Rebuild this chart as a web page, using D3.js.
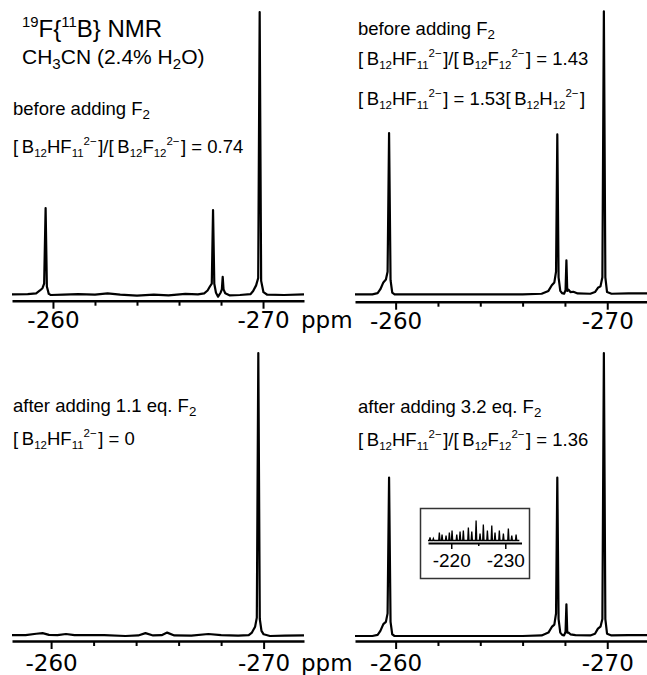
<!DOCTYPE html>
<html>
  <head>
    <title>19F{11B} NMR spectra</title>
    <style>
      body { margin: 0; background: #fff; }
      text { font-family: "Liberation Sans", Arial, sans-serif; fill: #000; }
    </style>
  </head>
  <body>
    <script src="https://cdnjs.cloudflare.com/ajax/libs/d3/7.8.5/d3.min.js"></script>
    <script>
      // spectra: [ppm, intensity], intensity 100 = tallest peak of the panel
      let specBefore1 = [
        [-258.05, 0.2], [-258.8, 0.3], [-259.2, 0.6], [-259.38, 1.6], [-259.5, 2.4], [-259.58, 4],
        [-259.65, 30.7], [-259.71, 3], [-259.8, 0.4], [-259.9, 0], [-260.5, 0.1], [-261.2, 0.3],
        [-262.0, 0.1], [-262.6, 0.6], [-263.2, 0.1], [-264.0, -0.2], [-264.8, 0.1], [-265.5, -0.1],
        [-266.3, 0.4], [-266.9, 0.2], [-267.2, 0.6], [-267.36, 1.6], [-267.47, 3.0], [-267.56, 4],
        [-267.62, 30], [-267.68, 4], [-267.76, 0.8], [-267.86, -0.6], [-267.98, 0.8], [-268.04, 2],
        [-268.08, 6.4], [-268.12, 2], [-268.2, 0.6], [-268.4, -0.1], [-268.9, 0], [-269.4, 0.3],
        [-269.53, 1.4], [-269.67, 3.4], [-269.77, 6], [-269.84, 100], [-269.91, 5], [-270.02, 1],
        [-270.2, 0.1], [-271.0, 0], [-271.95, 0.2]
      ];
      let specBefore2 = [
        [-258.08, 0], [-258.9, 0], [-259.15, 0.4], [-259.28, 1.8], [-259.42, 4.2], [-259.54, 5.2],
        [-259.62, 8], [-259.69, 57], [-259.76, 5], [-259.84, 0.6], [-259.95, 0], [-262, 0], [-264, 0],
        [-266, 0], [-266.9, 0.2], [-267.22, 1.2], [-267.38, 3.2], [-267.5, 4.2], [-267.58, 8],
        [-267.64, 56.5], [-267.7, 6], [-267.78, 1.2], [-267.87, 0.4], [-267.96, 0.2], [-268.03, 1.5],
        [-268.07, 12], [-268.11, 1.2], [-268.17, 1.6], [-268.26, 0.8], [-268.4, 0.9], [-268.6, 0.3],
        [-269.2, 0.2], [-269.42, 0.8], [-269.56, 2.3], [-269.68, 2.8], [-269.77, 6], [-269.84, 100],
        [-269.91, 6], [-269.99, 0.8], [-270.2, 0.2], [-271, 0.3], [-272.02, 0.3]
      ];
      let specAfter11 = [
        [-258.16, 0.3], [-258.8, 0.3], [-259.3, 0.8], [-259.6, 1.0], [-259.9, 0.4], [-260.3, 0.3],
        [-260.7, 0.7], [-261.1, 0.3], [-262.5, 0.3], [-263.5, 0], [-264.1, 0.2], [-264.44, 1.0],
        [-264.8, 0.2], [-265.2, 0.3], [-265.46, 1.2], [-265.8, 0.2], [-266.6, 0.1], [-267.4, 0.7],
        [-268.0, 0.3], [-268.8, 0.1], [-269.3, 0.3], [-269.45, 1.2], [-269.6, 3.3], [-269.68, 6.5],
        [-269.75, 100], [-269.82, 6], [-269.9, 1.8], [-270.0, 0.6], [-270.3, 0], [-271.0, 0.1],
        [-271.9, 0.2]
      ];
      let specAfter32 = [
        [-258.08, 0], [-258.9, 0], [-259.15, 0.4], [-259.28, 1.8], [-259.42, 4.2], [-259.54, 5],
        [-259.62, 8], [-259.69, 56], [-259.76, 5], [-259.84, 0.6], [-259.95, 0], [-262, 0], [-264, 0],
        [-266, 0], [-266.9, 0.2], [-267.22, 1.2], [-267.38, 3.2], [-267.5, 4], [-267.58, 8],
        [-267.64, 56], [-267.7, 6], [-267.78, 1.2], [-267.87, 0.4], [-267.96, 0.2], [-268.03, 1.5],
        [-268.07, 11.2], [-268.11, 1.2], [-268.17, 1.2], [-268.26, 0.6], [-268.5, 0.3], [-269.2, 0.2],
        [-269.42, 0.8], [-269.56, 2.6], [-269.68, 3.3], [-269.77, 6], [-269.84, 100], [-269.91, 6],
        [-269.99, 0.8], [-270.2, 0.2], [-271, 0.3], [-272.02, 0.3]
      ];
      // inset (-215 .. -233 ppm): spike positions and heights
      let insetPeaks = [
        [-216.07, 3], [-216.69, 2], [-217.8, 8], [-218.3, 6], [-219.04, 5], [-219.65, 8], [-220.15, 10],
        [-221.02, 6], [-221.63, 9], [-222.24, 10], [-223.17, 13], [-223.8, 9], [-224.6, 20],
        [-225.33, 7], [-225.94, 16], [-226.69, 10], [-227.5, 15], [-228.1, 8], [-228.9, 10],
        [-229.65, 7], [-230.57, 12], [-231.2, 5], [-232.0, 6]
      ];

      let majorTicks = [-260, -270];
      let minorTicks = [-262, -264, -266, -268];
      let insetMajor = [-220, -230];
      let insetMinor = [-225];

      let titleText = [['19', 'sup', 0.62], ['F{'], ['11', 'sup', 0.62], ['B} NMR']];
      let solventText = [['CH'], ['3', 'sub', 0.72], ['CN (2.4% H'], ['2', 'sub', 0.72], ['O)']];
      let beforeText = [['before adding F'], ['2', 'sub', 0.72]];
      let after11Text = [['after adding 1.1 eq. F'], ['2', 'sub', 0.72]];
      let after32Text = [['after adding 3.2 eq. F'], ['2', 'sub', 0.72]];
      let hf11 = [['[\u2009B'], ['12', 'sub'], ['HF'], ['11', 'sub'], ['2\u2212', 'sup'], ['\u200a]']];
      let f12 = [['[\u2009B'], ['12', 'sub'], ['F'], ['12', 'sub'], ['2\u2212', 'sup'], ['\u200a]']];
      let h12 = [['[\u2009B'], ['12', 'sub'], ['H'], ['12', 'sub'], ['2\u2212', 'sup'], ['\u200a]']];
      let ratio074 = hf11.concat([['/']], f12, [[' = 0.74']]);
      let ratio143 = hf11.concat([['/']], f12, [[' = 1.43']]);
      let ratio136 = hf11.concat([['/']], f12, [[' = 1.36']]);
      let ratioH12 = hf11.concat([[' = 1.53']], h12);
      let ratioZero = hf11.concat([[' = 0']]);

      let svg = d3.select('body')
                  .append('svg')
                  .attr('width', 647)
                  .attr('height', 675);

      let panels = [
        { spec: specBefore1, d: [-258.05, -271.95], r: [12, 304], base: 295, axisY: 300.7, lab: 27.5, ppm: true },
        { spec: specBefore2, d: [-258.08, -272.02], r: [355, 650], base: 294.3, axisY: 301.7, lab: 27.5, ppm: false },
        { spec: specAfter11, d: [-258.16, -271.9], r: [12, 304], base: 636, axisY: 641, lab: 30, ppm: true },
        { spec: specAfter32, d: [-258.08, -272.02], r: [355, 650], base: 636, axisY: 641, lab: 30, ppm: false }
      ];

      panels.forEach((p) => {
        let x = d3.scaleLinear().domain(p.d).range(p.r);
        let y = d3.scaleLinear().domain([0, 100]).range([p.base, p.base - 283]);

        let line = d3.line()
                     .x((d) => x(d[0]))
                     .y((d) => y(d[1]));

        svg.append('path')
           .attr('d', line(p.spec))
           .attr('fill', 'none')
           .attr('stroke', 'black')
           .attr('stroke-width', 2.2)
           .attr('stroke-linejoin', 'round');

        let minor = svg.append('g')
                       .attr('transform', 'translate(0,' + p.axisY + ')')
                       .call(d3.axisBottom(x).tickValues(minorTicks).tickSize(5).tickFormat(''));
        minor.select('.domain').remove();
        minor.selectAll('line').attr('stroke-width', 2);

        let major = svg.append('g')
                       .attr('transform', 'translate(0,' + p.axisY + ')')
                       .call(d3.axisBottom(x).tickValues(majorTicks).tickSize(8).tickSizeOuter(0)
                               .tickFormat((d) => String(d)));
        major.select('.domain').attr('stroke-width', 2.5);
        major.selectAll('line').attr('stroke-width', 2);
        major.selectAll('text')
             .attr('y', p.lab)
             .attr('dy', null)
             .style('font-family', '"DejaVu Sans", sans-serif')
             .style('font-size', '23px');

        if (p.ppm) {
          svg.append('text')
             .attr('x', 301)
             .attr('y', p.axisY + p.lab)
             .style('font-family', '"DejaVu Sans", sans-serif')
             .style('font-size', '23px')
             .text('ppm');
        }
      });

      // inset box
      svg.append('rect')
         .attr('x', 420.5).attr('y', 508.5)
         .attr('width', 109).attr('height', 70)
         .attr('fill', 'white')
         .attr('stroke', '#333')
         .attr('stroke-width', 1.5);

      let ix = d3.scaleLinear().domain([-215.7, -233.0]).range([428, 521.5]);
      let iy = d3.scaleLinear().domain([0, 20]).range([540.5, 520.5]);

      let insetPts = [[-215.7, 0]];
      insetPeaks.forEach((d) => {
        insetPts.push([d[0] + 0.12, 0], [d[0], d[1]], [d[0] - 0.12, 0]);
      });
      insetPts.push([-232.6, 0]);

      svg.append('path')
         .attr('d', d3.line().x((d) => ix(d[0])).y((d) => iy(d[1]))(insetPts))
         .attr('fill', 'none')
         .attr('stroke', 'black')
         .attr('stroke-width', 1.3);

      let iMinor = svg.append('g')
                      .attr('transform', 'translate(0,543)')
                      .call(d3.axisBottom(ix).tickValues(insetMinor).tickSize(3).tickFormat(''));
      iMinor.select('.domain').remove();
      iMinor.selectAll('line').attr('stroke-width', 1.5);

      let iMajor = svg.append('g')
                      .attr('transform', 'translate(0,543)')
                      .call(d3.axisBottom(ix).tickValues(insetMajor).tickSize(6).tickSizeOuter(0)
                              .tickFormat((d) => String(d)));
      iMajor.select('.domain').attr('stroke-width', 2);
      iMajor.selectAll('line').attr('stroke-width', 1.5);
      iMajor.selectAll('text')
            .attr('y', 24)
            .attr('dy', null)
            .style('font-size', '19px');

      // labels with sub/superscripts
      function richText(x, y, size, parts) {
        let t = svg.append('text')
                   .attr('x', x)
                   .attr('y', y)
                   .style('font-size', size + 'px');
        let shift = 0;
        parts.forEach((p) => {
          let kind = p[1] || 'n';
          let off = kind === 'sub' ? 0.24 * size : kind === 'sup' ? -0.42 * size : 0;
          let fs = kind === 'n' ? size : (p[2] || 0.62) * size;
          t.append('tspan')
           .attr('dy', off - shift)
           .style('font-size', fs + 'px')
           .text(p[0]);
          shift = off;
        });
      }

      richText(22, 37, 24, titleText);
      richText(22, 64, 21, solventText);
      richText(13, 115, 18.5, beforeText);
      richText(13, 153, 18.5, ratio074);

      richText(358, 35, 18.5, beforeText);
      richText(358, 65, 18.5, ratio143);
      richText(358, 105, 18.5, ratioH12);

      richText(13, 412, 18.5, after11Text);
      richText(13, 445, 18.5, ratioZero);

      richText(358, 413, 18.5, after32Text);
      richText(358, 446, 18.5, ratio136);
    </script>
  </body>
</html>
